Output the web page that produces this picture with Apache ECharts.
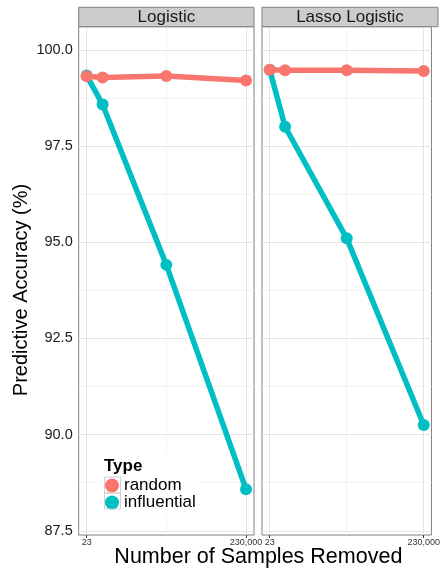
<!DOCTYPE html>
<html>
<head>
<meta charset="utf-8">
<script src="https://cdn.jsdelivr.net/npm/echarts@6/dist/echarts.min.js"></script>
<style>
html,body{margin:0;padding:0;background:#fff;}
#chart{width:443px;height:572px;}
</style>
</head>
<body>
<div id="chart"></div>
<script>
// ---- data ----
const panels = ['Logistic', 'Lasso Logistic'];
const seriesNames = ['random', 'influential'];
const xValues = [23, 23000, 115000, 230000];
const logisticRandom = [99.31, 99.28, 99.32, 99.20];
const logisticInfluential = [99.33, 98.58, 94.41, 88.58];
const lassoRandom = [99.48, 99.47, 99.47, 99.45];
const lassoInfluential = [99.48, 98.00, 95.10, 90.25];
const xTicks = [23, 230000];
const xMinorTicks = [115011.5];
const yTicks = [87.5, 90.0, 92.5, 95.0, 97.5, 100.0];
const yMinorTicks = [88.75, 91.25, 93.75, 96.25, 98.75];

// ---- layout ----
const FONT = '"Liberation Sans", Arial, sans-serif';
const RED = '#F8766D', CYAN = '#00BFC4';
const panelTop = 26.7, panelBottom = 535;
const panelX = [[78.7, 254], [262, 438]];
const stripTop = 7.3;
const xMin = 23 - 0.05 * (230000 - 23), xMax = 230000 + 0.05 * (230000 - 23);
const yMin = 87.39, yMax = 100.6;

const grids = panelX.map(p => ({
  left: p[0], top: panelTop, width: p[1] - p[0], height: panelBottom - panelTop,
  show: true, borderColor: '#7f7f7f', borderWidth: 1, backgroundColor: '#fff'
}));

const xAxes = panelX.map((p, i) => ({
  gridIndex: i, type: 'value', min: xMin, max: xMax,
  axisLine: { show: false },
  axisTick: { show: true, length: 3, customValues: xTicks, lineStyle: { color: '#333' } },
  axisLabel: { customValues: xTicks, fontSize: 9, color: '#333', margin: 3, fontFamily: FONT,
    formatter: v => Number(v).toLocaleString('en-US') },
  splitLine: { show: false }
}));

const yAxes = panelX.map((p, i) => ({
  gridIndex: i, type: 'value', min: yMin, max: yMax,
  axisLine: { show: false },
  axisTick: { show: i === 0, length: 4, customValues: yTicks, lineStyle: { color: '#333' } },
  axisLabel: { show: i === 0, customValues: yTicks, fontSize: 14.5, color: '#1a1a1a', margin: 6, fontFamily: FONT,
    formatter: v => Number(v).toFixed(1) },
  splitLine: { show: false }
}));

function gridSeries(i) {
  const major = { color: '#e4e4e4', width: 1, type: 'solid' };
  const minor = { color: '#f3f3f3', width: 1, type: 'solid' };
  const data = []
    .concat(yMinorTicks.map(v => ({ yAxis: v, lineStyle: minor })))
    .concat(xMinorTicks.map(v => ({ xAxis: v, lineStyle: minor })))
    .concat(yTicks.map(v => ({ yAxis: v, lineStyle: major })))
    .concat(xTicks.map(v => ({ xAxis: v, lineStyle: major })));
  return {
    type: 'line', xAxisIndex: i, yAxisIndex: i, data: [], z: 1, silent: true,
    markLine: { z: 1, silent: true, symbol: ['none', 'none'], label: { show: false },
      emphasis: { disabled: true }, animation: false, data: data }
  };
}

function dataSeries(name, vals, i, color, z) {
  return {
    name: name, type: 'line', xAxisIndex: i, yAxisIndex: i, z: z,
    data: xValues.map((x, k) => [x, vals[k]]),
    symbol: 'circle', symbolSize: 12, showSymbol: true,
    itemStyle: { color: color },
    lineStyle: { color: color, width: 5.5, cap: 'round', join: 'round' },
    emphasis: { disabled: true }
  };
}

const graphic = [];
panelX.forEach((p, i) => {
  graphic.push({ type: 'rect', z: 10, shape: { x: p[0], y: stripTop, width: p[1] - p[0], height: panelTop - stripTop },
    style: { fill: '#cccccc', stroke: '#7f7f7f', lineWidth: 1 } });
  graphic.push({ type: 'text', z: 11, x: (p[0] + p[1]) / 2, y: (stripTop + panelTop) / 2 + 0.5,
    style: { text: panels[i], fontSize: 17, fontFamily: FONT, fill: '#1a1a1a', align: 'center', verticalAlign: 'middle' } });
});
// legend background, title and key boxes
graphic.push({ type: 'rect', z: 2, shape: { x: 100, y: 455, width: 100, height: 58 }, style: { fill: '#fff' } });
graphic.push({ type: 'text', z: 11, x: 104, y: 466.5,
  style: { text: 'Type', fontSize: 17, fontWeight: 'bold', fontFamily: FONT, fill: '#000', align: 'left', verticalAlign: 'middle' } });
[477, 493].forEach(y => graphic.push({ type: 'rect', z: 11, shape: { x: 104.5, y: y, width: 16, height: 16 },
  style: { fill: 'none', stroke: '#cfcfcf', lineWidth: 1 } }));
// axis titles
graphic.push({ type: 'text', z: 11, x: (panelX[0][0] + panelX[1][1]) / 2, y: 557.5,
  style: { text: 'Number of Samples Removed', fontSize: 21.5, fontFamily: FONT, fill: '#000', align: 'center', verticalAlign: 'middle' } });
graphic.push({ type: 'text', z: 11, x: 21, y: 290, rotation: Math.PI / 2,
  style: { text: 'Predictive Accuracy (%)', fontSize: 20, fontFamily: FONT, fill: '#000', align: 'center', verticalAlign: 'middle' } });

const option = {
  animation: false,
  backgroundColor: '#fff',
  textStyle: { fontFamily: FONT },
  grid: grids,
  xAxis: xAxes,
  yAxis: yAxes,
  legend: {
    data: seriesNames, orient: 'vertical', left: 105, top: 477, padding: 0, itemGap: 0,
    icon: 'circle', itemWidth: 14, itemHeight: 14, selectedMode: false, z: 10,
    textStyle: { fontSize: 17, lineHeight: 16, color: '#000', fontFamily: FONT }
  },
  graphic: graphic,
  series: [
    gridSeries(0), gridSeries(1),
    dataSeries('influential', logisticInfluential, 0, CYAN, 3),
    dataSeries('random', logisticRandom, 0, RED, 4),
    dataSeries('influential', lassoInfluential, 1, CYAN, 3),
    dataSeries('random', lassoRandom, 1, RED, 4)
  ]
};

const chart = echarts.init(document.getElementById('chart'), null, { renderer: 'canvas' });
chart.setOption(option);
</script>
</body>
</html>
